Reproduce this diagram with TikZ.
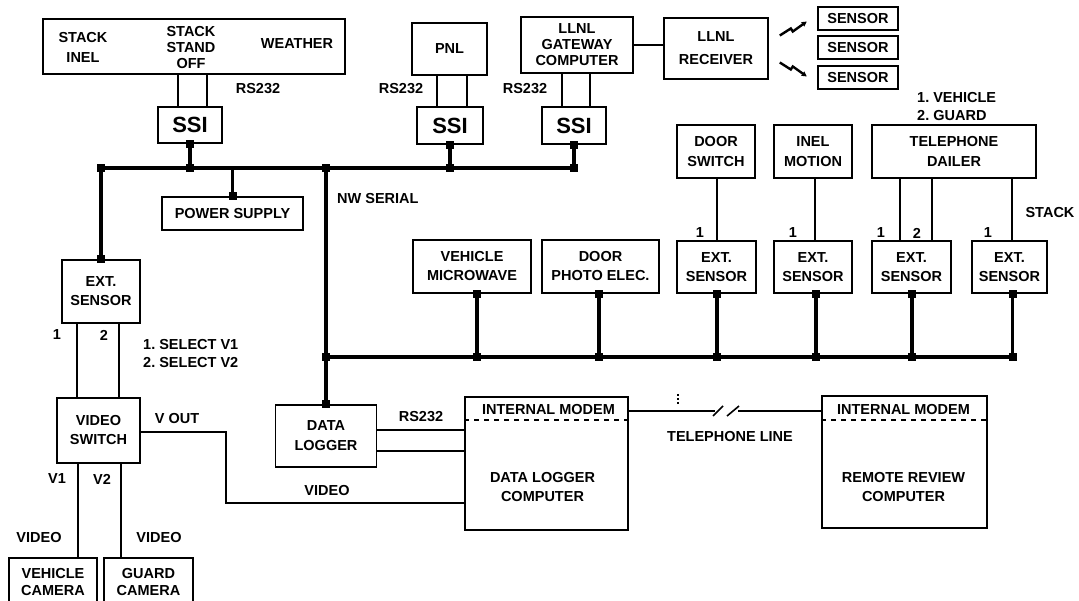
\documentclass[tikz,border=0pt]{standalone}
\usepackage{fontspec}
\setmainfont{Liberation Sans}
\usetikzlibrary{calc,arrows.meta}
\newcommand{\lab}{\fontsize{14.5}{18}\selectfont\bfseries}
\newcommand{\ssifont}{\fontsize{22}{24}\selectfont\bfseries}
\frenchspacing
\begin{document}
\begin{tikzpicture}[x=1pt,y=-1pt,
  box/.style={draw, line width=1.6pt, inner sep=0pt, align=center, font=\lab},
  ssibox/.style={box, font=\ssifont},
  thin/.style={line width=1.6pt},
  bus/.style={line width=3.6pt},
  jn/.style={fill, inner sep=0pt, minimum size=8pt},
  txt/.style={font=\lab, align=center, inner sep=0pt},
  bolt/.style={line width=2.4pt, line join=miter, -{Triangle[length=5pt,width=5pt]}}]
\useasboundingbox (0,0) rectangle (1079,601);
\clip (0,0) rectangle (1079,601);
% ---------- coordinates of buses
\coordinate (b1) at (0,168);
\coordinate (b2) at (0,357);
\coordinate (dm) at (0,420);
\coordinate (brk1) at (715,411);
\coordinate (brk2) at (738,411);
\coordinate (vo) at (226,503);
% ---------- top row
\node[box, minimum width=302, minimum height=55] (top) at (194,46.5) {};
\node[txt] (t1) at (83,47) {STACK\\[2pt]INEL};
\node[txt] (t2) at (191,48) {STACK\\[-2pt]STAND\\[-2pt]OFF};
\node[txt] (t3) at (297,44) {WEATHER};
\node[ssibox, minimum width=64, minimum height=36] (ssi1) at (190,125) {SSI};
\node[txt] (rs1) at (258,89) {RS232};
\node[box, minimum width=75, minimum height=52] (pnl) at (449.5,49) {PNL};
\node[ssibox, minimum width=66, minimum height=37] (ssi2) at (450,125.5) {SSI};
\node[txt] (rs2) at (401,89) {RS232};
\node[box, minimum width=112, minimum height=56] (gw) at (577,45) {LLNL\\[-2pt]GATEWAY\\[-2pt]COMPUTER};
\node[ssibox, minimum width=64, minimum height=37] (ssi3) at (574,125.5) {SSI};
\node[txt] (rs3) at (525,89) {RS232};
\node[box, minimum width=104, minimum height=61] (rcv) at (716,48.5) {LLNL\\[5pt]RECEIVER};
\node[box, minimum width=80, minimum height=23] (s1) at (858,18.5) {SENSOR};
\node[box, minimum width=80, minimum height=23] (s2) at (858,47.5) {SENSOR};
\node[box, minimum width=80, minimum height=23] (s3) at (858,77.5) {SENSOR};
\node[box, minimum width=141, minimum height=33] (psu) at (232.5,213.5) {POWER SUPPLY};
\node[txt, anchor=west] (nw) at (337,199) {NW SERIAL};
% ---------- right upper row
\node[txt, anchor=west, align=left] (vg) at (917,106.5) {1. VEHICLE\\2. GUARD};
\node[box, minimum width=78, minimum height=53] (door) at (716,151.5) {DOOR\\[2pt]SWITCH};
\node[box, minimum width=78, minimum height=53] (inel) at (813,151.5) {INEL\\[2pt]MOTION};
\node[box, minimum width=164, minimum height=53] (dial) at (954,151.5) {TELEPHONE\\[2pt]DAILER};
\node[txt] (stk) at (1050,213) {STACK};
% ---------- sensor row
\node[box, minimum width=118, minimum height=53] (mw) at (472,266.5) {VEHICLE\\[1pt]MICROWAVE};
\node[box, minimum width=117, minimum height=53] (dpe) at (600.5,266.5) {DOOR\\[1pt]PHOTO ELEC.};
\node[box, minimum width=79, minimum height=52] (ext1) at (716.5,267) {EXT.\\[1pt]SENSOR};
\node[box, minimum width=78, minimum height=52] (ext2) at (813,267) {EXT.\\[1pt]SENSOR};
\node[box, minimum width=79, minimum height=52] (ext3) at (911.5,267) {EXT.\\[1pt]SENSOR};
\node[box, minimum width=75, minimum height=52] (ext4) at (1009.5,267) {EXT.\\[1pt]SENSOR};
\node[txt] (n1) at (700,233) {1};
\node[txt] (n2) at (793,233) {1};
\node[txt] (n3) at (881,233) {1};
\node[txt] (n4) at (917,233) {2};
\node[txt] (n5) at (988,233) {1};
% ---------- left column
\node[box, minimum width=78, minimum height=63] (ext0) at (101,291.5) {EXT.\\[1pt]SENSOR};
\node[txt] (l1) at (57,335) {1};
\node[txt] (l2) at (104,335) {2};
\node[txt, anchor=west, align=left] (sel) at (143,354) {1. SELECT V1\\2. SELECT V2};
\node[box, minimum width=83, minimum height=65] (vsw) at (98.5,430.5) {VIDEO\\[1pt]SWITCH};
\node[txt] (vout) at (177,419) {V OUT};
\node[txt] (v1) at (57,479) {V1};
\node[txt] (v2) at (102,479) {V2};
\node[txt] (vid1) at (39,538) {VIDEO};
\node[txt] (vid2) at (159,538) {VIDEO};
\node[box, minimum width=88, minimum height=48] (vcam) at (53,582) {VEHICLE\\[-1pt]CAMERA};
\node[box, minimum width=89, minimum height=48] (gcam) at (148.5,582) {GUARD\\[-1pt]CAMERA};
% ---------- bottom
\node[box, minimum width=101, minimum height=62] (dl) at (326,436) {DATA\\[2pt]LOGGER};
\node[txt] (rs4) at (421,417) {RS232};
\node[txt] (vid3) at (327,491) {VIDEO};
\node[box, minimum width=163, minimum height=133] (dlc) at (546.5,463.5) {};
\node[txt] (im1) at ($(dlc.north)+(2,13)$) {INTERNAL MODEM};
\node[txt] (dlct) at ($(dlc.center)+(-4,24)$) {DATA LOGGER\\[1pt]COMPUTER};
\node[box, minimum width=165, minimum height=132] (rrc) at (904.5,462) {};
\node[txt] (im2) at ($(rrc.north)+(-1,14)$) {INTERNAL MODEM};
\node[txt] (rrct) at ($(rrc.center)+(-1,25)$) {REMOTE REVIEW\\[1pt]COMPUTER};
\node[txt] (tel) at (730,437) {TELEPHONE LINE};
% ---------- thin connectors, top
\draw[thin] ([xshift=-12pt]ssi1.north) -- ([xshift=-12pt]ssi1.north |- top.south);
\draw[thin] ([xshift=17pt]ssi1.north) -- ([xshift=17pt]ssi1.north |- top.south);
\draw[thin] ([xshift=-13pt]ssi2.north) -- ([xshift=-13pt]ssi2.north |- pnl.south);
\draw[thin] ([xshift=17pt]ssi2.north) -- ([xshift=17pt]ssi2.north |- pnl.south);
\draw[thin] ([xshift=-12pt]ssi3.north) -- ([xshift=-12pt]ssi3.north |- gw.south);
\draw[thin] ([xshift=16pt]ssi3.north) -- ([xshift=16pt]ssi3.north |- gw.south);
\draw[thin] (gw.east) -- (gw.east -| rcv.west);
\draw[bolt] ($(rcv.east)+(11,-13)$) -- ++(11,-7) -- ++(2,3) -- ++(14,-10);
\draw[bolt] ($(rcv.east)+(11,14)$) -- ++(11,7) -- ++(2,-3) -- ++(14,10);
% ---------- bus 1
\node[jn] (qL) at (ext0.north |- b1) {};
\node[jn] (q1a) at (ssi1.south) {};
\node[jn] (q1b) at (ssi1.south |- b1) {};
\node[jn] (q2a) at (ssi2.south) {};
\node[jn] (q2b) at (ssi2.south |- b1) {};
\node[jn] (q3a) at (ssi3.south) {};
\node[jn] (q3b) at (ssi3.south |- b1) {};
\node[jn] (qn1) at (dl.north |- b1) {};
\node[jn] (qn2) at (dl.north |- b2) {};
\node[jn] (qn3) at (dl.north) {};
\node[jn] (qps) at (psu.north) {};
\node[jn] (qe0) at (ext0.north) {};
\draw[bus] (qL.center) -- (q3b.center);
\draw[bus] (q1a.center) -- (q1b.center);
\draw[bus] (q2a.center) -- (q2b.center);
\draw[bus] (q3a.center) -- (q3b.center);
\draw[bus] (qps.center) -- (qps.center |- b1);
\draw[bus] (qn1.center) -- (qn3.center);
\draw[bus] (qL.center) -- (qe0.center);
% ---------- bus 2
\node[jn] (qm1) at ([xshift=5pt]mw.south) {};
\node[jn] (qm2) at ([xshift=5pt]mw.south |- b2) {};
\node[jn] (qd1) at ([xshift=-1.5pt]dpe.south) {};
\node[jn] (qd2) at ([xshift=-1.5pt]dpe.south |- b2) {};
\node[jn] (qx1) at ([xshift=0.5pt]ext1.south) {};
\node[jn] (qx1b) at ([xshift=0.5pt]ext1.south |- b2) {};
\node[jn] (qx2) at ([xshift=3pt]ext2.south) {};
\node[jn] (qx2b) at ([xshift=3pt]ext2.south |- b2) {};
\node[jn] (qx3) at ([xshift=0.5pt]ext3.south) {};
\node[jn] (qx3b) at ([xshift=0.5pt]ext3.south |- b2) {};
\node[jn] (qx4) at ([xshift=3pt]ext4.south) {};
\node[jn] (qx4b) at ([xshift=3pt]ext4.south |- b2) {};
\draw[bus] (qn2.center) -- (qx4b.center);
\draw[bus] (qm1.center) -- (qm2.center);
\draw[bus] (qd1.center) -- (qd2.center);
\draw[bus] (qx1.center) -- (qx1b.center);
\draw[bus] (qx2.center) -- (qx2b.center);
\draw[bus] (qx3.center) -- (qx3b.center);
\draw[bus] (qx4.center) -- (qx4b.center);
% ---------- thin connectors, right
\draw[thin] ([xshift=1pt]door.south) -- ([xshift=1pt]door.south |- ext1.north);
\draw[thin] ([xshift=2pt]inel.south) -- ([xshift=2pt]inel.south |- ext2.north);
\draw[thin] ([xshift=-54pt]dial.south) -- ([xshift=-54pt]dial.south |- ext3.north);
\draw[thin] ([xshift=-22pt]dial.south) -- ([xshift=-22pt]dial.south |- ext3.north);
\draw[thin] ([xshift=58pt]dial.south) -- ([xshift=58pt]dial.south |- ext4.north);
% ---------- thin connectors, left
\draw[thin] ([xshift=-24pt]ext0.south) -- ([xshift=-24pt]ext0.south |- vsw.north);
\draw[thin] ([xshift=18pt]ext0.south) -- ([xshift=18pt]ext0.south |- vsw.north);
\draw[thin] ([xshift=-20.5pt]vsw.south) -- ([xshift=-20.5pt]vsw.south |- vcam.north);
\draw[thin] ([xshift=22.5pt]vsw.south) -- ([xshift=22.5pt]vsw.south |- gcam.north);
\draw[thin] ([yshift=-1.5pt]vsw.east) -| (vo) -- (vo -| dlc.west);
% ---------- data logger
\draw[thin] ([yshift=6pt]dl.east) -- ([yshift=6pt]dl.east -| dlc.west);
\draw[thin] ([yshift=-15pt]dl.east) -- ([yshift=-15pt]dl.east -| dlc.west);
\draw[line width=1.4pt, dash pattern=on 5pt off 5pt] (dlc.west |- dm) -- (dlc.east |- dm);
\draw[line width=1.4pt, dash pattern=on 5pt off 5pt] (rrc.west |- dm) -- (rrc.east |- dm);
% ---------- telephone line
\draw[thin] (dlc.east |- brk1) -- (brk1);
\draw[thin] (brk2) -- (brk2 -| rrc.west);
\draw[thin] ($(brk1)+(-2,5)$) -- ++(10,-10);
\draw[thin] ($(brk1)+(12,5)$) -- ++(12,-10);
\draw[line width=1.6pt, dash pattern=on 2pt off 2pt] ($(brk1)+(-37,-17)$) -- ++(0,11);
\end{tikzpicture}
\end{document}
